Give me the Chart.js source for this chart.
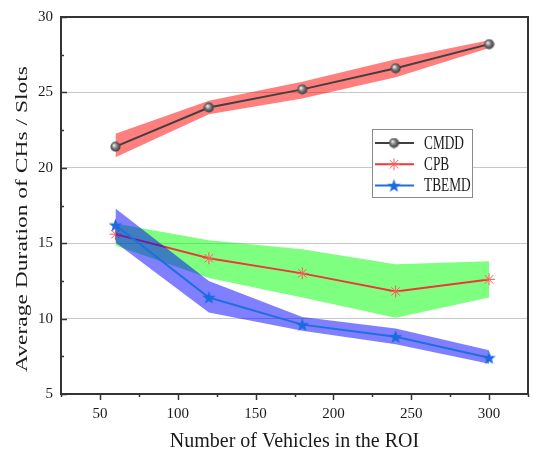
<!DOCTYPE html>
<html>
<head>
<meta charset="utf-8">
<script src="https://cdn.jsdelivr.net/npm/chart.js@4.4.0/dist/chart.umd.min.js"></script>
<style>
  html, body { margin: 0; padding: 0; background: #fff; }
  #wrap { width: 533px; height: 455px; }
</style>
</head>
<body>
<div id="wrap"><canvas id="chart" width="533" height="455"></canvas></div>
<script>
// Data
const vehicles = [60, 120, 180, 240, 300];

const cmdd = [21.4, 24.0, 25.2, 26.6, 28.2];
const cmddHigh = [22.25, 24.45, 25.7, 27.2, 28.45];
const cmddLow = [20.7, 23.55, 24.6, 26.0, 27.95];

const cpb = [15.6, 14.0, 13.0, 11.8, 12.6];
const cpbHigh = [16.3, 15.2, 14.6, 13.6, 13.8];
const cpbLow = [14.85, 12.7, 11.4, 10.05, 11.4];

const tbemd = [16.2, 11.4, 9.6, 8.8, 7.4];
const tbemdHigh = [17.3, 12.5, 10.1, 9.35, 7.9];
const tbemdLow = [15.05, 10.4, 9.2, 8.3, 7.0];

const seriesNames = ['CMDD', 'CPB', 'TBEMD'];
const yTitle = 'Average Duration of CHs / Slots';
const xTitle = 'Number of Vehicles in the ROI';

const serif = "'Liberation Serif', 'Times New Roman', serif";

// Marker images
function sphereImage() {
    const c = document.createElement('canvas');
    c.width = 11; c.height = 11;
    const g = c.getContext('2d');
    const grad = g.createRadialGradient(4, 4, 0.5, 5.5, 5.5, 5.5);
    grad.addColorStop(0, '#e8e8e8');
    grad.addColorStop(0.45, '#777');
    grad.addColorStop(1, '#333');
    g.fillStyle = grad;
    g.beginPath();
    g.arc(5.5, 5.5, 5, 0, Math.PI * 2);
    g.fill();
    return c;
}

function starImage(color) {
    const c = document.createElement('canvas');
    c.width = 15; c.height = 15;
    const g = c.getContext('2d');
    g.fillStyle = color;
    g.beginPath();
    for (let i = 0; i < 10; i++) {
        const r = i % 2 === 0 ? 7 : 2.9;
        const a = -Math.PI / 2 + i * Math.PI / 5;
        const px = 7.5 + r * Math.cos(a);
        const py = 8 + r * Math.sin(a);
        if (i === 0) g.moveTo(px, py); else g.lineTo(px, py);
    }
    g.closePath();
    g.fill();
    return c;
}

const sphere = sphereImage();
const blueStar = starImage('#1a6be0');

function toPoints(vals) {
    return vals.map((v, i) => ({ x: vehicles[i], y: v }));
}

function band(vals, order, fillTarget, color) {
    return {
        label: '',
        data: toPoints(vals),
        borderWidth: 0,
        borderColor: 'transparent',
        pointRadius: 0,
        fill: fillTarget === null ? false : { target: fillTarget },
        backgroundColor: color,
        order: order
    };
}

const datasets = [
    {
        label: 'CMDD', data: toPoints(cmdd), borderColor: '#404040', borderWidth: 2,
        pointStyle: sphere, pointRadius: 5, fill: false, order: 1
    },
    band(cmddHigh, 10, 2, 'rgba(255,0,0,0.5)'),
    band(cmddLow, 10, null, 'transparent'),
    {
        label: 'CPB', data: toPoints(cpb), borderColor: '#ee3838', borderWidth: 2,
        pointStyle: 'star', pointRadius: 6, pointBorderColor: '#ff5a5a', pointBorderWidth: 1,
        fill: false, order: 4
    },
    band(cpbHigh, 6, 5, 'rgba(0,255,0,0.5)'),
    band(cpbLow, 6, null, 'transparent'),
    {
        label: 'TBEMD', data: toPoints(tbemd), borderColor: '#1f6fdc', borderWidth: 2,
        pointStyle: blueStar, pointRadius: 7, fill: false, order: 2
    },
    band(tbemdHigh, 3, 8, 'rgba(0,0,255,0.5)'),
    band(tbemdLow, 3, null, 'transparent')
];

// Frame, inward/outward tick marks and rotated y title
const framePlugin = {
    id: 'frame',
    afterDraw(chart) {
        const ctx = chart.ctx;
        const a = chart.chartArea;
        const xs = chart.scales.x;
        const ys = chart.scales.y;
        ctx.save();
        ctx.strokeStyle = '#333';
        ctx.lineWidth = 1.5;
        ys.ticks.forEach(t => {
            const py = Math.round(ys.getPixelForValue(t.value)) + 0.5;
            const len = t.value % 5 === 0 ? 6 : 3;
            ctx.beginPath();
            ctx.moveTo(a.left, py);
            ctx.lineTo(a.left + len, py);
            ctx.stroke();
        });
        xs.ticks.forEach(t => {
            const px = Math.round(xs.getPixelForValue(t.value)) + 0.5;
            const len = t.value % 50 === 0 ? 6 : 3;
            ctx.beginPath();
            ctx.moveTo(px, a.bottom);
            ctx.lineTo(px, a.bottom + len);
            ctx.stroke();
        });
        ctx.lineWidth = 2;
        ctx.strokeRect(a.left, a.top, a.right - a.left, a.bottom - a.top);

        // y title, stretched along its length like the original
        ctx.fillStyle = '#1a1a1a';
        ctx.font = '16px ' + serif;
        ctx.textAlign = 'center';
        ctx.textBaseline = 'alphabetic';
        ctx.translate(26.5, 219);
        ctx.rotate(-Math.PI / 2);
        ctx.scale(1.47, 1);
        ctx.fillText(yTitle, 0, 0);
        ctx.restore();
    }
};

// Legend drawn inside the plot area
const legendPlugin = {
    id: 'insideLegend',
    afterDraw(chart) {
        const ctx = chart.ctx;
        const bx = 372, by = 129, bw = 100, bh = 68;
        ctx.save();
        ctx.fillStyle = '#fff';
        ctx.fillRect(bx, by, bw, bh);
        ctx.strokeStyle = '#8a8a8a';
        ctx.lineWidth = 1;
        ctx.strokeRect(bx + 0.5, by + 0.5, bw, bh);

        const shown = chart.data.datasets.filter(d => seriesNames.includes(d.label));
        shown.forEach((d, i) => {
            const cy = by + 14 + i * 21.3;
            ctx.strokeStyle = d.borderColor;
            ctx.lineWidth = 2;
            ctx.beginPath();
            ctx.moveTo(bx + 3, cy);
            ctx.lineTo(bx + 42, cy);
            ctx.stroke();
            const mx = bx + 22;
            if (d.pointStyle === 'star') {
                const r = d.pointRadius;
                ctx.strokeStyle = d.pointBorderColor;
                ctx.lineWidth = 1;
                ctx.beginPath();
                for (let k = 0; k < 4; k++) {
                    const ang = k * Math.PI / 4;
                    ctx.moveTo(mx - r * Math.cos(ang), cy - r * Math.sin(ang));
                    ctx.lineTo(mx + r * Math.cos(ang), cy + r * Math.sin(ang));
                }
                ctx.stroke();
            } else {
                const img = d.pointStyle;
                ctx.drawImage(img, mx - img.width / 2, cy - img.height / 2);
            }
            ctx.save();
            ctx.fillStyle = '#1a1a1a';
            ctx.font = '18px ' + serif;
            ctx.textBaseline = 'middle';
            ctx.translate(bx + 52, cy + 1);
            ctx.scale(0.74, 1);
            ctx.fillText(d.label, 0, 0);
            ctx.restore();
        });
        ctx.restore();
    }
};

new Chart(document.getElementById('chart').getContext('2d'), {
    type: 'line',
    data: { datasets: datasets },
    options: {
        responsive: false,
        animation: false,
        events: [],
        layout: { autoPadding: false, padding: { top: 16, right: 5, left: 0, bottom: 0 } },
        plugins: {
            legend: { display: false },
            tooltip: { enabled: false }
        },
        elements: { line: { tension: 0 } },
        scales: {
            x: {
                type: 'linear',
                min: 25,
                max: 325,
                afterFit: (s) => {
                    s.height = 61;
                    s.paddingLeft = 0;
                    s.paddingRight = 0;
                },
                grid: {
                    display: true,
                    drawOnChartArea: false,
                    drawTicks: true,
                    tickLength: 11,
                    tickColor: 'transparent',
                    color: 'transparent'
                },
                border: { display: false },
                ticks: {
                    stepSize: 25,
                    autoSkip: false,
                    maxRotation: 0,
                    padding: 0,
                    color: '#1a1a1a',
                    font: { family: serif, size: 15 },
                    callback: (v) => (v % 50 === 0 && v >= 50 && v <= 300) ? v : ''
                },
                title: {
                    display: true,
                    text: xTitle,
                    color: '#1a1a1a',
                    font: { family: serif, size: 20 },
                    padding: { top: 0, bottom: 1 }
                }
            },
            y: {
                min: 5,
                max: 30,
                afterFit: (s) => { s.width = 61; },
                grid: {
                    drawTicks: false,
                    lineWidth: 1,
                    color: (c) => [10, 15, 20, 25].includes(c.tick.value) ? '#c8c8c8' : 'transparent'
                },
                border: { display: false },
                ticks: {
                    stepSize: 2.5,
                    autoSkip: false,
                    padding: 8,
                    color: '#1a1a1a',
                    font: { family: serif, size: 15 },
                    callback: (v) => v % 5 === 0 ? v : ''
                }
            }
        }
    },
    plugins: [framePlugin, legendPlugin]
});
</script>
</body>
</html>
